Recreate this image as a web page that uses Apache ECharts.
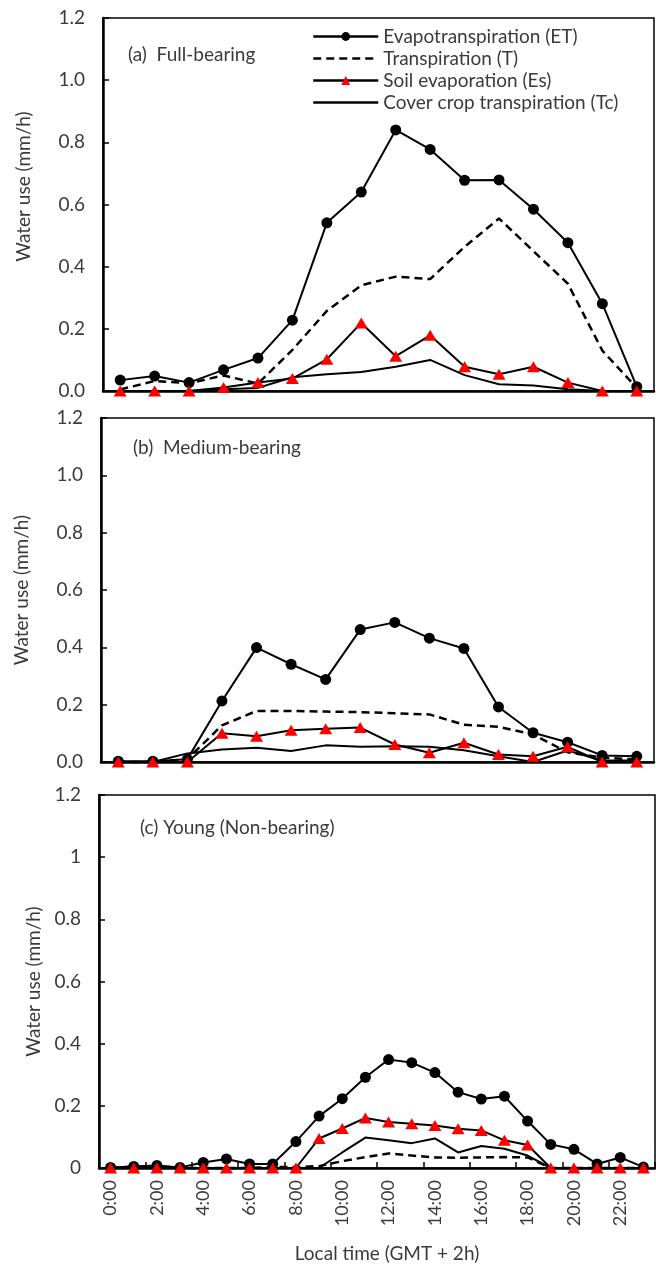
<!DOCTYPE html>
<html>
<head>
<meta charset="utf-8">
<script src="https://cdn.jsdelivr.net/npm/echarts@6/dist/echarts.min.js"></script>
<style>
  html, body { margin: 0; padding: 0; background: #fff; }
  #chart { width: 656px; height: 1264px; }
</style>
</head>
<body>
<div id="chart"></div>
<script>
// categories (a) and (b): 16 readings over the day
var stepsAB = ["0:00", "1:30", "3:00", "4:30", "6:00", "7:30", "9:00", "10:30",
  "12:00", "13:30", "15:00", "16:30", "18:00", "19:30", "21:00", "22:30"];
// categories (c): hourly
var hours = [];
for (var h = 0; h < 24; h++) hours.push(h + ":00");

// (a) Full-bearing
var etA = [0.035, 0.048, 0.027, 0.068, 0.106, 0.228, 0.541, 0.640, 0.840, 0.777, 0.678, 0.679, 0.585, 0.477, 0.281, 0.014];
var tA = [0.005, 0.032, 0.025, 0.050, 0.024, 0.132, 0.258, 0.340, 0.368, 0.360, 0.464, 0.555, 0.450, 0.345, 0.130, 0.010];
var esA = [0, 0, 0, 0.011, 0.027, 0.040, 0.102, 0.219, 0.112, 0.179, 0.078, 0.054, 0.078, 0.027, 0, 0];
var tcA = [0, 0, 0, 0.006, 0.010, 0.044, 0.054, 0.061, 0.078, 0.100, 0.051, 0.022, 0.018, 0.006, 0, 0];

// (b) Medium-bearing
var etB = [0.003, 0.003, 0.010, 0.213, 0.399, 0.341, 0.288, 0.462, 0.487, 0.432, 0.396, 0.192, 0.102, 0.069, 0.023, 0.020];
var tB = [0, 0, 0.010, 0.128, 0.178, 0.178, 0.176, 0.174, 0.170, 0.166, 0.130, 0.123, 0.096, 0.034, 0.015, 0.009];
var esB = [0, 0, 0, 0.100, 0.090, 0.111, 0.116, 0.120, 0.061, 0.032, 0.067, 0.026, 0.020, 0.053, 0, 0];
var tcB = [0, 0, 0.030, 0.044, 0.050, 0.038, 0.058, 0.053, 0.055, 0.053, 0.041, 0.020, 0.000, 0.040, 0.005, 0.005];

// (c) Young (Non-bearing)
var etC = [0.002, 0.005, 0.008, 0.002, 0.018, 0.029, 0.013, 0.013, 0.085, 0.167, 0.223, 0.292,
  0.349, 0.339, 0.307, 0.244, 0.222, 0.231, 0.151, 0.076, 0.060, 0.013, 0.034, 0.003];
var tC = [0, 0.005, 0.005, 0, 0, 0, 0, 0.003, 0.003, 0.006, 0.022, 0.035,
  0.047, 0.040, 0.034, 0.033, 0.034, 0.035, 0.034, 0, 0, 0, 0, 0];
var esC = [0, 0, 0, 0, 0, 0, 0, 0, 0, 0.095, 0.127, 0.161,
  0.148, 0.142, 0.137, 0.126, 0.121, 0.089, 0.074, 0, 0, 0, 0, 0];
var tcC = [0, 0, 0, 0, 0, 0, 0, 0, 0, 0, 0.050, 0.098,
  0.089, 0.080, 0.095, 0.050, 0.071, 0.062, 0.040, 0, 0, 0, 0, 0];

var yTicks = [0, 0.2, 0.4, 0.6, 0.8, 1.0, 1.2];
var names = ["Evapotranspiration (ET)", "Transpiration (T)", "Soil evaporation (Es)", "Cover crop transpiration (Tc)"];

var FONT = "Lato";
var TXT = "#3a3a3a";
var FS = 19;

function xAxisFor(idx, cats, withLabels) {
  return {
    type: "category",
    gridIndex: idx,
    data: cats,
    boundaryGap: true,
    axisLine: { show: true, lineStyle: { color: "#000", width: 2.5 } },
    axisTick: { show: withLabels, inside: true, length: 6, interval: 1, lineStyle: { color: "#000", width: 1.5 } },
    axisLabel: withLabels ? {
      show: true, interval: 1, rotate: 90, margin: 12,
      fontFamily: FONT, fontSize: 18, color: TXT
    } : { show: false },
    name: withLabels ? "Local time (GMT + 2h)" : "",
    nameLocation: "middle",
    nameGap: 76,
    nameTextStyle: { fontFamily: FONT, fontSize: FS, color: TXT, padding: [0, 0, 0, 20] },
    splitLine: { show: false }
  };
}

function yAxisFor(idx, decimals, gap, pad) {
  return {
    type: "value",
    gridIndex: idx,
    min: yTicks[0],
    max: yTicks[yTicks.length - 1],
    interval: 0.2,
    axisLine: { show: true, lineStyle: { color: "#000", width: 2.5 } },
    axisTick: { show: true, inside: true, length: 6, lineStyle: { color: "#000", width: 1.5 } },
    axisLabel: {
      margin: 18, fontFamily: FONT, fontSize: FS, color: TXT,
      formatter: function (v) { return decimals ? v.toFixed(1) : String(Math.round(v * 10) / 10); }
    },
    splitLine: { show: false },
    name: "Water use (mm/h)",
    nameLocation: "middle",
    nameGap: gap,
    nameTextStyle: { fontFamily: FONT, fontSize: FS, color: TXT, padding: pad }
  };
}

function seriesFor(idx, et, t, es, tc) {
  return [
    {
      name: names[0], type: "line", xAxisIndex: idx, yAxisIndex: idx, data: et,
      symbol: "circle", symbolSize: 11, clip: false, z: 4,
      lineStyle: { color: "#000", width: 2 },
      itemStyle: { color: "#000" }
    },
    {
      name: names[1], type: "line", xAxisIndex: idx, yAxisIndex: idx, data: t,
      symbol: "none", clip: false, z: 3,
      lineStyle: { color: "#000", width: 2.5, type: [8, 5] },
      itemStyle: { color: "#000" }
    },
    {
      name: names[2], type: "line", xAxisIndex: idx, yAxisIndex: idx, data: es,
      symbol: "triangle", symbolSize: [13, 11], clip: false, z: 5,
      lineStyle: { color: "#000", width: 2 },
      itemStyle: { color: "#ff0000" }
    },
    {
      name: names[3], type: "line", xAxisIndex: idx, yAxisIndex: idx, data: tc,
      symbol: "none", clip: false, z: 3,
      lineStyle: { color: "#000", width: 2 },
      itemStyle: { color: "#000" }
    }
  ];
}

var chart = echarts.init(document.getElementById("chart"), null, { renderer: "canvas" });

var titleStyle = { fontFamily: FONT, fontSize: FS, fontWeight: "normal", color: TXT };

var option = {
  animation: false,
  backgroundColor: "#fff",
  textStyle: { fontFamily: FONT },
  title: [
    { text: "(a)  Full-bearing", left: 128, top: 45, padding: 0, textStyle: titleStyle },
    { text: "(b)  Medium-bearing", left: 133, top: 438, padding: 0, textStyle: titleStyle },
    { text: "(c) Young (Non-bearing)", left: 140, top: 818, padding: 0, textStyle: titleStyle }
  ],
  legend: {
    data: [
      { name: names[0] },
      { name: names[1], itemStyle: { opacity: 0 } },
      { name: names[2] },
      { name: names[3], itemStyle: { opacity: 0 } }
    ],
    orient: "vertical",
    left: 312,
    top: 27,
    padding: 0,
    itemWidth: 65,
    itemHeight: 11,
    itemGap: 3,
    selectedMode: false,
    lineStyle: { width: 2.5 },
    textStyle: { fontFamily: FONT, fontSize: FS, lineHeight: 19, color: TXT }
  },
  grid: [
    { left: 103, right: 2, top: 18, height: 373, show: true, borderColor: "#000", borderWidth: 1.5, backgroundColor: "transparent" },
    { left: 101, right: 2, top: 418, height: 344, show: true, borderColor: "#000", borderWidth: 1.5, backgroundColor: "transparent" },
    { left: 99, right: 1, top: 795, height: 376, show: true, borderColor: "#000", borderWidth: 1.5, backgroundColor: "transparent" }
  ],
  xAxis: [
    xAxisFor(0, stepsAB, false),
    xAxisFor(1, stepsAB, false),
    xAxisFor(2, hours, true)
  ],
  yAxis: [
    yAxisFor(0, true, 70, [0, 0, 0, 36]),
    yAxisFor(1, true, 70, 0),
    yAxisFor(2, false, 54, 0)
  ],
  series: [].concat(
    seriesFor(0, etA, tA, esA, tcA),
    seriesFor(1, etB, tB, esB, tcB),
    seriesFor(2, etC, tC, esC, tcC)
  )
};

chart.setOption(option);
</script>
</body>
</html>
